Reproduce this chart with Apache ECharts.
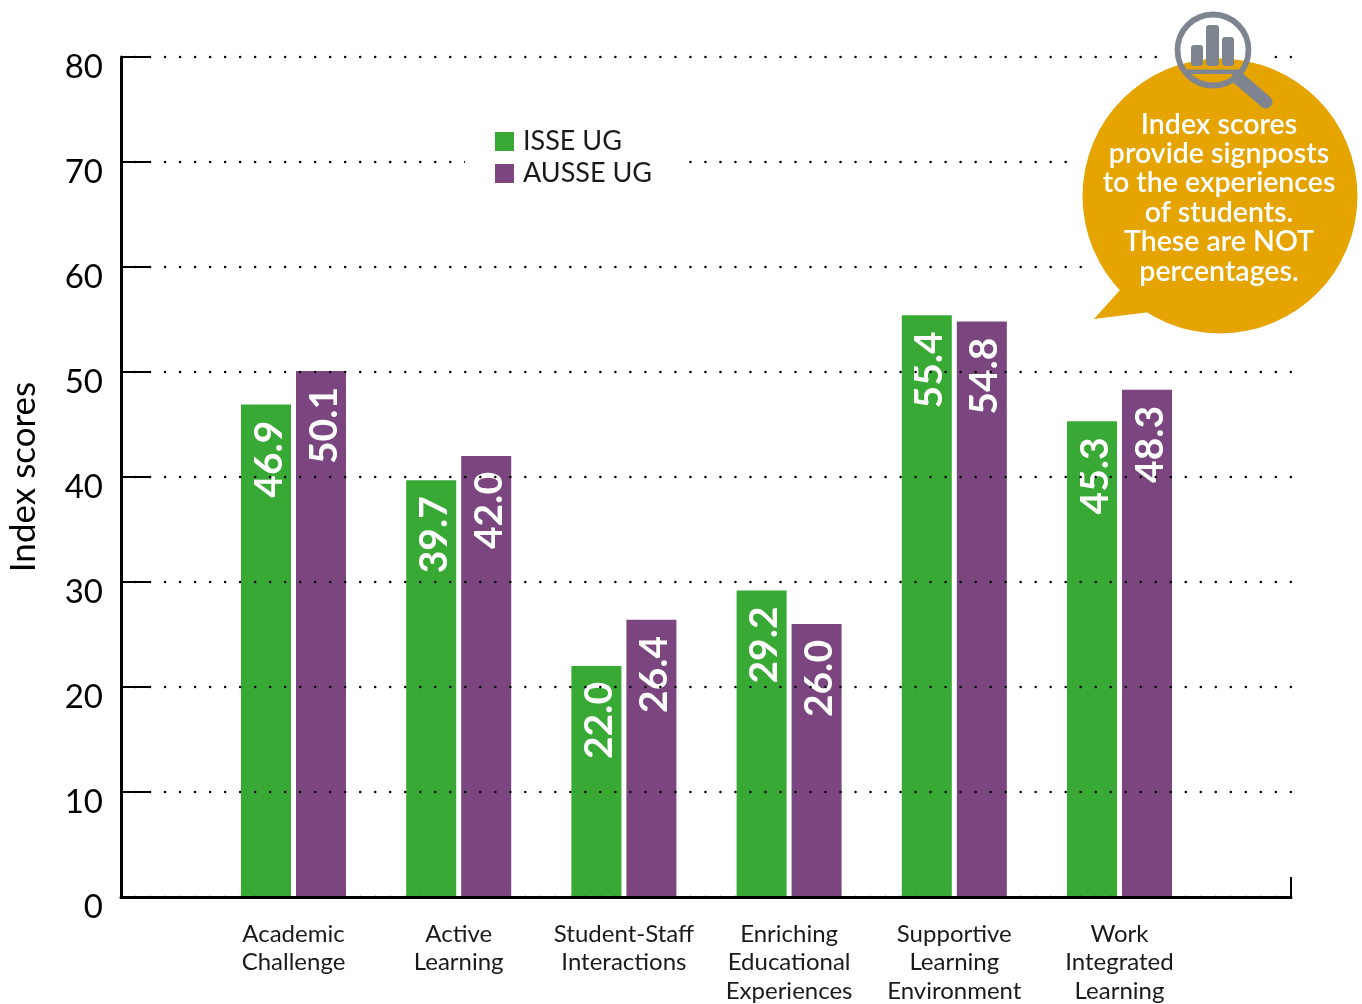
<!DOCTYPE html>
<html><head><meta charset="utf-8">
<style>html,body{margin:0;padding:0;background:#fff}#c{width:1362px;height:1004px}</style>
<script src="https://cdn.jsdelivr.net/npm/echarts@6/dist/echarts.min.js"></script></head>
<body><div id="c"></div>
<script>
const categories = ['Academic\nChallenge','Active\nLearning','Student-Staff\nInteractions','Enriching\nEducational\nExperiences','Supportive\nLearning\nEnvironment','Work\nIntegrated\nLearning'];
const isseUG = [46.9,39.7,22.0,29.2,55.4,45.3];
const ausseUG = [50.1,42.0,26.4,26.0,54.8,48.3];
const seriesNames = ['ISSE UG','AUSSE UG'];
const yName = 'Index scores';
const calloutText = 'Index scores\nprovide signposts\nto the experiences\nof students.\nThese are NOT\npercentages.';
const FONT = 'Lato, "Open Sans", sans-serif';
const GREEN = '#39A935', PURPLE = '#7B4680', GOLD = '#E5A400', GREY = '#7E8590';

const barLabel = {
  show:true, position:'insideTop', distance:16, rotate:90, align:'right', verticalAlign:'middle',
  offset:[0,3],
  color:'#fff', fontFamily:FONT, fontSize:39, fontWeight:'bold',
  formatter:p=>p.value.toFixed(1)
};
const chart = echarts.init(document.getElementById('c'),null,{renderer:'canvas'});
const greyBar = (x,y,w,h)=>({type:'rect',shape:{x,y,width:w,height:h,r:3},style:{fill:GREY},z:102});
chart.setOption({
  animation:false,
  backgroundColor:'#fff',
  textStyle:{fontFamily:FONT},
  legend:{
    data:seriesNames, orient:'vertical', left:465, top:120,
    padding:[8,34,8,30], backgroundColor:'#fff',
    itemWidth:19,itemHeight:19,itemGap:5, icon:'rect', z:5,
    textStyle:{fontFamily:FONT,fontSize:27,color:'#1a1a1a',padding:[0,0,0,4]}
  },
  grid:[
    {left:121,top:57,width:1170,height:840,outerBoundsMode:'none'},
    {left:210.9,top:57,width:991.2,height:840,outerBoundsMode:'none'}
  ],
  xAxis:[
    {gridIndex:0,type:'value',min:0,max:1,interval:1,z:3,
     axisLine:{show:true,onZero:false,lineStyle:{color:'#000',width:3}},
     axisTick:{show:true,inside:true,length:20,lineStyle:{color:'#000',width:2}},
     axisLabel:{show:false},splitLine:{show:false}},
    {gridIndex:1,type:'category',data:categories,z:3,
     axisLine:{show:false},axisTick:{show:false},
     axisLabel:{interval:0,color:'#1a1a1a',fontFamily:FONT,fontSize:24,lineHeight:28.5,margin:23,verticalAlign:'top',hideOverlap:false}}
  ],
  yAxis:[
    {gridIndex:0,type:'value',min:0,max:80,interval:10,z:3,
     name:yName,nameLocation:'middle',nameGap:80,nameRotate:90,nameMoveOverlap:false,
     nameTextStyle:{color:'#000',fontFamily:FONT,fontSize:35},
     axisLine:{show:true,onZero:false,lineStyle:{color:'#000',width:3}},
     axisTick:{show:true,inside:true,length:30,lineStyle:{color:'#000',width:2}},
     axisLabel:{color:'#000',fontFamily:FONT,fontSize:33,margin:18,verticalAlign:'top',lineHeight:20},
     splitLine:{show:true,lineStyle:{color:'#000',width:2.4,type:[0.1,14.91],dashOffset:1,cap:'round'}}},
    {gridIndex:1,type:'value',min:0,max:80,interval:10,show:false,splitLine:{show:false}}
  ],
  series:[
    {name:seriesNames[0],type:'bar',xAxisIndex:1,yAxisIndex:1,data:isseUG,barWidth:50,barGap:'10%',z:2,itemStyle:{color:GREEN},label:barLabel},
    {name:seriesNames[1],type:'bar',xAxisIndex:1,yAxisIndex:1,data:ausseUG,barWidth:50,barGap:'10%',z:2,itemStyle:{color:PURPLE},label:barLabel}
  ],
  graphic:[
    {type:'rect',shape:{x:1168,y:50,width:104,height:14},style:{fill:'#fff'},z:100},
    {type:'rect',shape:{x:1068,y:155,width:230,height:14},style:{fill:'#fff'},z:100},
    {type:'rect',shape:{x:1086,y:260,width:212,height:14},style:{fill:'#fff'},z:100},
    {type:'polygon',shape:{points:[[1094,319],[1120,290],[1150,312]]},style:{fill:GOLD},z:101},
    {type:'circle',shape:{cx:1220,cy:196,r:137.5},style:{fill:GOLD},z:101},
    {type:'line',shape:{x1:1238,y1:78,x2:1266,y2:102},style:{stroke:GREY,lineWidth:13,lineCap:'round'},z:102},
    {type:'circle',shape:{cx:1213,cy:50,r:35.5},style:{fill:'none',stroke:GREY,lineWidth:5.8},z:102},
    {type:'rect',shape:{x:1184,y:69.5,width:58,height:4.5},style:{fill:GREY},z:102},
    greyBar(1191,45,12,21),
    greyBar(1206,25,13,41),
    greyBar(1222,37,12,29),
    {type:'text',x:1219,y:198,z:103,style:{text:calloutText,fill:'#fff',font:'600 28.5px '+FONT,lineHeight:29.4,align:'center',verticalAlign:'middle'}}
  ]
});
</script></body></html>
